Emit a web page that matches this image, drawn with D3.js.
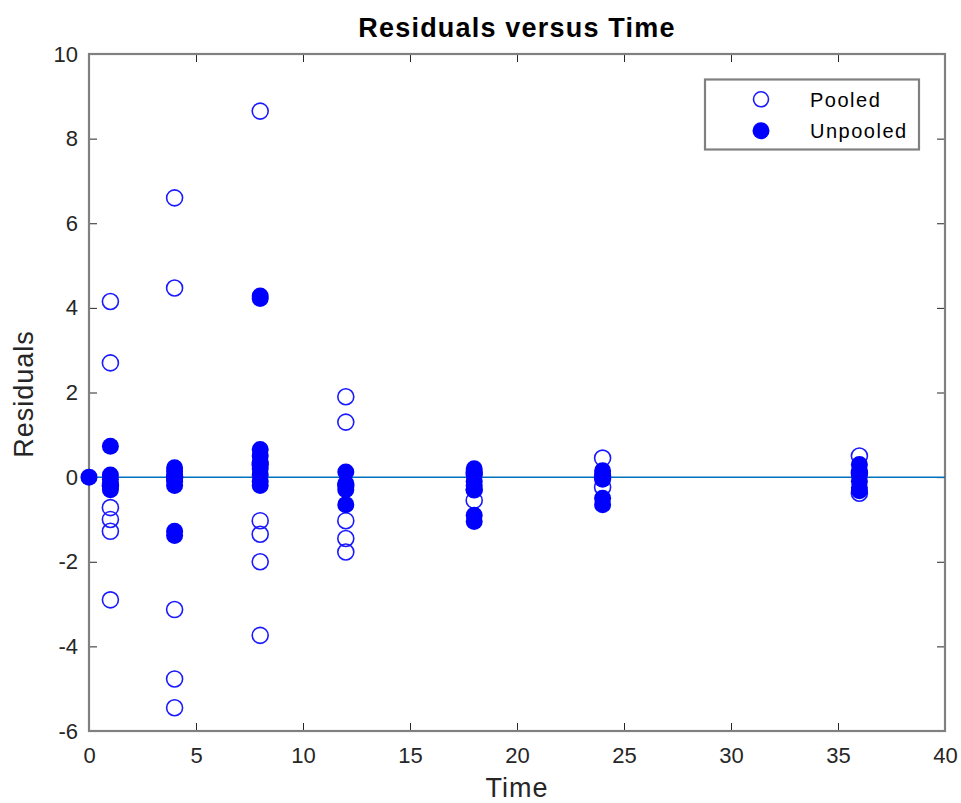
<!DOCTYPE html>
<html><head><meta charset="utf-8">
<script src="https://cdn.jsdelivr.net/npm/d3@7"></script>
<style>body{margin:0;background:#fff}svg{display:block}text{font-family:"Liberation Sans",Arial,sans-serif}</style>
</head><body><svg id="c" width="961" height="803"></svg>
<script>
const xTicks=[0,5,10,15,20,25,30,35,40];
const yTicks=[-6,-4,-2,0,2,4,6,8,10];
const pooledTime=[1,1,1,1,1,1,1,4,4,4,4,4,4,8,8,8,8,8,8,12,12,12,12,12,12,18,18,18,24,24,24,36,36,36];
const pooledRes=[4.15,2.7,-0.72,-1.0,-1.28,-2.9,-0.2,6.6,4.47,-3.13,-4.77,-5.45,0.0,8.65,-1.03,-1.35,-2.0,-3.74,0.3,1.9,1.3,-1.03,-1.45,-1.77,-0.2,-0.55,0.1,-0.3,0.45,-0.24,0.0,0.5,-0.38,0.1];
const unpooledTime=[0,1,1,1,1,1,1,4,4,4,4,4,4,4,8,8,8,8,8,8,8,8,8,12,12,12,12,18,18,18,18,18,18,18,24,24,24,24,24,36,36,36,36,36,36];
const unpooledRes=[0,0.73,0.05,-0.05,-0.15,-0.22,-0.3,0.22,0.12,0.0,-0.1,-0.2,-1.28,-1.38,4.28,4.22,0.65,0.5,0.35,0.2,0.05,-0.1,-0.2,0.12,-0.15,-0.3,-0.65,0.2,0.05,-0.1,-0.2,-0.3,-0.9,-1.05,0.15,0.05,-0.05,-0.5,-0.65,0.3,0.15,0.05,-0.1,-0.25,-0.32];
const seriesNames=["Pooled","Unpooled"];

const svg=d3.select("#c");
const L=89,R=945,T=54,B=731;
const x=d3.scaleLinear().domain([0,40]).range([L,R]);
const y=d3.scaleLinear().domain([-6,10]).range([B,T]);
const frame="#808080", txt="#262626";
const fmt=d=>String(d);

// axes
const xa=svg.append("g").attr("transform",`translate(0,${B})`).call(d3.axisBottom(x).tickValues(xTicks).tickFormat(fmt).tickSizeInner(-8).tickSizeOuter(0).tickPadding(16));
const xa2=svg.append("g").attr("transform",`translate(0,${T})`).call(d3.axisTop(x).tickValues(xTicks).tickSizeInner(-8).tickSizeOuter(0).tickFormat(""));
const ya=svg.append("g").attr("transform",`translate(${L},0)`).call(d3.axisLeft(y).tickValues(yTicks).tickFormat(fmt).tickSizeInner(-8).tickSizeOuter(0).tickPadding(11));
const ya2=svg.append("g").attr("transform",`translate(${R},0)`).call(d3.axisRight(y).tickValues(yTicks).tickSizeInner(-8).tickSizeOuter(0).tickFormat(""));
[xa,xa2,ya,ya2].forEach(g=>{
  g.select(".domain").remove();
  g.selectAll(".tick line").attr("stroke",txt).attr("stroke-width",1);
  g.selectAll(".tick text").attr("fill",txt).style("font-size","22px").style("font-family","Liberation Sans, Arial, sans-serif");
});
svg.append("rect").attr("x",L).attr("y",T).attr("width",R-L).attr("height",B-T).attr("fill","none").attr("stroke",frame).attr("stroke-width",2.2);

// zero line
svg.append("line").attr("x1",x(0)).attr("x2",x(40)).attr("y1",y(0)).attr("y2",y(0)).attr("stroke","#0072BD").attr("stroke-width",1.5);

// pooled (hollow)
svg.append("g").selectAll("circle").data(pooledTime.map((t,i)=>[t,pooledRes[i]])).join("circle")
  .attr("cx",d=>x(d[0])).attr("cy",d=>y(d[1])).attr("r",8).attr("fill","none").attr("stroke","#1a1aff").attr("stroke-width",1.6);
// unpooled (filled)
svg.append("g").selectAll("circle").data(unpooledTime.map((t,i)=>[t,unpooledRes[i]])).join("circle")
  .attr("cx",d=>x(d[0])).attr("cy",d=>y(d[1])).attr("r",8.5).attr("fill","#0000ff");

// title and labels
svg.append("text").attr("x",(L+R)/2).attr("y",37).attr("text-anchor","middle").attr("font-weight","bold").attr("font-size",27).attr("letter-spacing",1.2).attr("fill","#000").text("Residuals versus Time");
svg.append("text").attr("x",(L+R)/2).attr("y",797).attr("text-anchor","middle").attr("font-size",27).attr("letter-spacing",1).attr("fill",txt).text("Time");
svg.append("text").attr("transform",`translate(33,394) rotate(-90)`).attr("text-anchor","middle").attr("font-size",27).attr("letter-spacing",1).attr("fill",txt).text("Residuals");

// legend
const lg=svg.append("g");
lg.append("rect").attr("x",705).attr("y",79.5).attr("width",214).attr("height",70).attr("fill","#fff").attr("stroke",frame).attr("stroke-width",2.2);
lg.append("circle").attr("cx",761).attr("cy",99.3).attr("r",7.5).attr("fill","none").attr("stroke","#1a1aff").attr("stroke-width",1.6);
lg.append("circle").attr("cx",761).attr("cy",130.7).attr("r",8.5).attr("fill","#0000ff");
lg.append("text").attr("x",810).attr("y",107.3).attr("font-size",20).attr("letter-spacing",1.5).attr("fill","#000").text(seriesNames[0]);
lg.append("text").attr("x",810).attr("y",137.7).attr("font-size",20).attr("letter-spacing",1.5).attr("fill","#000").text(seriesNames[1]);
</script></body></html>
